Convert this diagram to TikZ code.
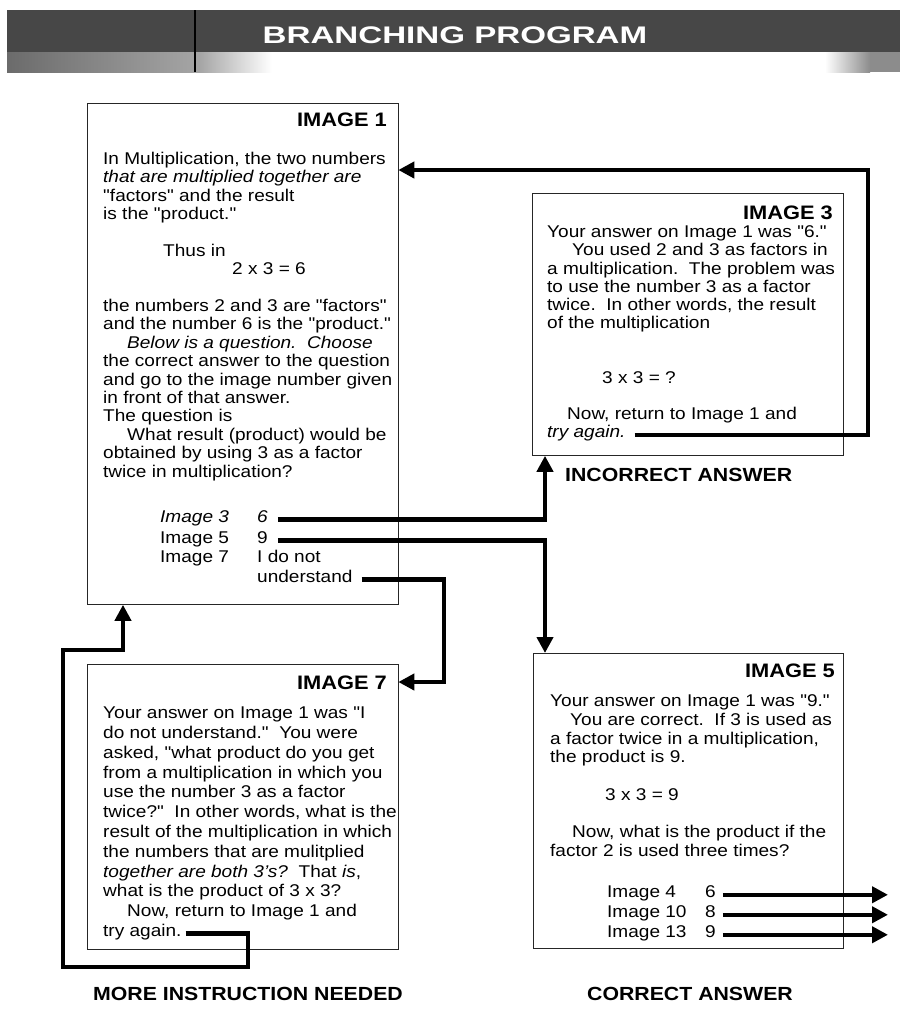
\documentclass[tikz,border=0pt]{standalone}
\usepackage{fontspec}
\setmainfont{Liberation Sans}[FakeStretch=1.12,Ligatures=TeXOff]
\newfontfamily\headfont{Liberation Sans}[FakeStretch=1.38]
\usetikzlibrary{arrows.meta}
\begin{document}
\begin{tikzpicture}[x=1pt,y=-1pt,
  box/.style={draw=black!85,line width=0.8pt,inner sep=0pt,anchor=north west},
  boxtitle/.style={anchor=base east,inner sep=0pt,font=\fontsize{19.5}{20}\selectfont\bfseries},
  body/.style={anchor=north west,inner sep=0pt,align=left},
  ans/.style={anchor=base west,inner sep=0pt,font=\fontsize{17}{18}\selectfont},
  ansit/.style={anchor=base west,inner sep=0pt,font=\fontsize{17}{18}\selectfont\itshape},
  lbl/.style={inner sep=0pt,font=\fontsize{19}{20}\selectfont\bfseries},
  arr/.style={line width=4.3pt,-{Triangle[length=16pt,width=16pt]}}
]
\useasboundingbox (0,0) rectangle (906,1034);
\fill[white] (0,0) rectangle (906,1034);

% heading band
\fill[black!72] (7,10) rectangle (900,52);
\shade[left color=black!58,right color=black!35] (7,52) rectangle (200,72);
\shade[left color=black!35,right color=white] (200,52) rectangle (272,72);
\shade[left color=white,right color=black!45] (825,52) rectangle (870,72);
\fill[black!45] (870,52) rectangle (900,72);
\draw[black,line width=1.2pt] (195,10) -- (195,72);
\node[anchor=base,inner sep=0pt,text=white,font=\headfont\fontsize{24}{24}\selectfont\bfseries] (title) at (455,43) {BRANCHING PROGRAM};

% frames
\node[box,minimum width=310.5pt,minimum height=501pt] (img1) at (87,103) {};
\node[box,minimum width=311pt,minimum height=262pt] (img3) at (532,193) {};
\node[box,minimum width=310pt,minimum height=295pt] (img5) at (533,653) {};
\node[box,minimum width=310.5pt,minimum height=285pt] (img7) at (87,664) {};

% frame headings
\node[boxtitle] (h1) at (387,126) {IMAGE 1};
\node[boxtitle] (h3) at (833,219) {IMAGE 3};
\node[boxtitle] (h5) at (835,677) {IMAGE 5};
\node[boxtitle] (h7) at (387,689) {IMAGE 7};

% IMAGE 1 text
\node[body,font=\fontsize{17}{18.4}\selectfont] (t1) at (103,151) {\rule{0pt}{13pt}In Multiplication, the two numbers\\
\textit{that are multiplied together are}\\
"factors" and the result\\
is the "product."\\[18.4pt]
\hspace*{60pt}Thus in\\
\hspace*{129pt}2 x 3 = 6\\[18.4pt]
the numbers 2 and 3 are "factors"\\
and the number 6 is the "product."\\
\hspace*{24pt}\textit{Below is a question.\ \ Choose}\\
the correct answer to the question\\
and go to the image number given\\
in front of that answer.\\
The question is\\
\hspace*{24pt}What result (product) would be\\
obtained by using 3 as a factor\\
twice in multiplication?};

\node[ansit] (l3) at (160,522) {Image 3};
\node[ansit] (a6) at (257,522) {6};
\node[ans] (l5) at (160,543) {Image 5};
\node[ans] (a9) at (257,543) {9};
\node[ans] (l7) at (160,562) {Image 7};
\node[ans] (a7) at (257,562) {I do not};
\node[ans] (au) at (257,582) {understand};

% IMAGE 3 text
\node[body,font=\fontsize{17}{18.2}\selectfont] (t3b) at (547,224.4) {\rule{0pt}{13pt}Your answer on Image 1 was "6."\\
\hspace*{25pt}You used 2 and 3 as factors in\\
a multiplication.\ \ The problem was\\
to use the number 3 as a factor\\
twice.\ \ In other words, the result\\
of the multiplication\\[36.4pt]
\hspace*{55pt}3 x 3 = ?\\[18.2pt]
\hspace*{20pt}Now, return to Image 1 and};
\node[ansit] (t3) at (547,437.6) {try again.};

% IMAGE 5 text
\node[body,font=\fontsize{17}{18.7}\selectfont] (t5b) at (550,693.4) {\rule{0pt}{13pt}Your answer on Image 1 was "9."\\
\hspace*{20pt}You are correct.\ \ If 3 is used as\\
a factor twice in a multiplication,\\
the product is 9.\\[18.7pt]
\hspace*{55pt}3 x 3 = 9\\[18.7pt]
\hspace*{22pt}Now, what is the product if the\\
factor 2 is used three times?};

\node[ans] (m4) at (607,897.4) {Image 4};
\node[ans] (b6) at (705,897.4) {6};
\node[ans] (m10) at (607,917.4) {Image 10};
\node[ans] (b8) at (705,917.4) {8};
\node[ans] (m13) at (607,937.4) {Image 13};
\node[ans] (b9) at (705,937.4) {9};

% IMAGE 7 text
\node[body,font=\fontsize{17}{19.8}\selectfont] (t7b) at (103,705.4) {\rule{0pt}{13pt}Your answer on Image 1 was "I\\
do not understand."\ \ You were\\
asked, "what product do you get\\
from a multiplication in which you\\
use the number 3 as a factor\\
twice?"\ \ In other words, what is the\\
result of the multiplication in which\\
the numbers that are mulitplied\\
\textit{together are both 3’s?}\ \ That \textit{is},\\
what is the product of 3 x 3?\\
\hspace*{24pt}Now, return to Image 1 and};
\node[ans] (t7) at (103,936.2) {try again.};

% captions
\node[lbl,anchor=base west] (inc) at (565,481) {INCORRECT ANSWER};
\node[lbl,anchor=base] (cor) at (690,1000) {CORRECT ANSWER};
\node[lbl,anchor=base] (more) at (248,1000) {MORE INSTRUCTION NEEDED};

% routing
\coordinate (r3) at (868,170);
\coordinate (l1) at (248,967);
\coordinate (l2) at (63,650);
\coordinate (aend) at (888,0);

\draw[arr] ([xshift=10pt]a6.mid east) -| ([xshift=13pt]img3.south west);
\draw[arr] ([xshift=10pt]a9.mid east) -| ([xshift=12pt]img5.north west);
\draw[arr] ([xshift=9pt]au.mid east) -| ([xshift=45.5pt,yshift=-18pt]img7.north east) -- ([yshift=-18pt]img7.north east);
\draw[arr] ([xshift=9pt]t3.mid east) -| (r3) -- (r3 -| img1.east);
\draw[arr] ([xshift=4pt]t7.mid east) -| (l1) -| (l2) -| ([xshift=36pt]img1.south west);

\draw[arr] ([xshift=7pt]b6.mid east) -- (b6.mid east -| aend);
\draw[arr] ([xshift=7pt]b8.mid east) -- (b8.mid east -| aend);
\draw[arr] ([xshift=7pt]b9.mid east) -- (b9.mid east -| aend);
\end{tikzpicture}
\end{document}
